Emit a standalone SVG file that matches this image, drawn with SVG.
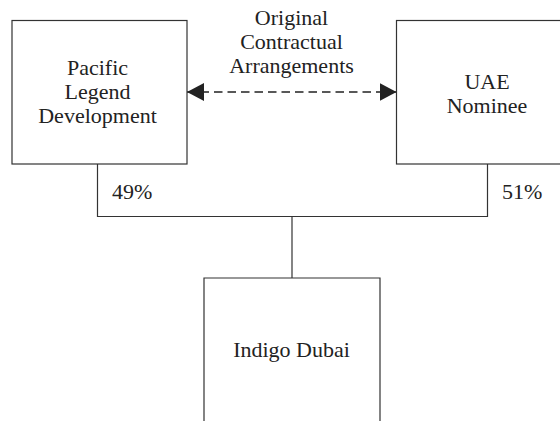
<svg xmlns="http://www.w3.org/2000/svg" width="560" height="421" viewBox="0 0 560 421">
<style>
.box{fill:#fff;stroke:#333;stroke-width:1.2}
.ln{fill:none;stroke:#333;stroke-width:1.2}
.dash{fill:none;stroke:#222;stroke-width:1.4;stroke-dasharray:8.5 5}
text{font-family:"Liberation Serif","Times New Roman",serif;font-size:22px;fill:#222;text-anchor:middle}
.l{text-anchor:start}
</style>
<defs>
<marker id="ah" viewBox="0 0 17 18" refX="17" refY="9" markerWidth="17" markerHeight="18" markerUnits="userSpaceOnUse" orient="auto-start-reverse">
<path d="M0,0 L17,9 L0,18 Z" fill="#222"/>
</marker>
</defs>
<rect width="560" height="421" fill="#fff"/>
<g id="connectors">
<polyline class="ln" points="97.5,164 97.5,216.5 487.5,216.5 487.5,164"/>
<line class="ln" x1="292" y1="216.5" x2="292" y2="278"/>
<line class="dash" x1="187" y1="92" x2="396.5" y2="92" marker-start="url(#ah)" marker-end="url(#ah)"/>
<text x="291.5" y="25">Original</text>
<text x="291.5" y="49">Contractual</text>
<text x="291.5" y="73">Arrangements</text>
<text class="l" x="112" y="199">49%</text>
<text class="l" x="502" y="199">51%</text>
</g>
<g id="pacific">
<rect class="box" x="12" y="20.5" width="175" height="143.5"/>
<text x="97.5" y="75">Pacific</text>
<text x="97.5" y="99">Legend</text>
<text x="97.5" y="122.5">Development</text>
</g>
<g id="uae">
<rect class="box" x="396.5" y="20.5" width="200" height="143.5"/>
<text x="487" y="89">UAE</text>
<text x="487" y="112.5">Nominee</text>
</g>
<g id="indigo">
<path class="box" d="M204,425 L204,278 L380,278 L380,425"/>
<text x="291.5" y="356.5">Indigo Dubai</text>
</g>
</svg>
